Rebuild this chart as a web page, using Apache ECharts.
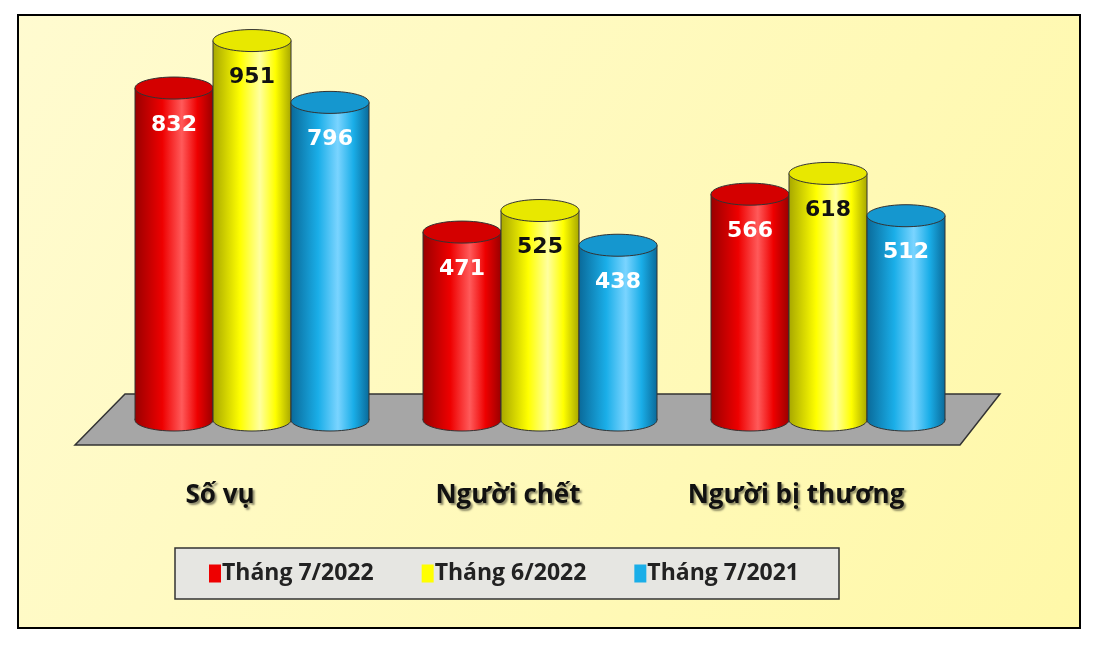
<!DOCTYPE html>
<html><head><meta charset="utf-8">
<script src="https://cdn.jsdelivr.net/npm/echarts@6/dist/echarts.min.js"></script>
<style>html,body{margin:0;padding:0;background:#fff}#c{width:1100px;height:645px}</style>
</head><body><div id="c"></div>
<script>
const categories = ['Số vụ', 'Người chết', 'Người bị thương'];
const seriesNames = ['Tháng 7/2022', 'Tháng 6/2022', 'Tháng 7/2021'];
const jul2022 = [832, 471, 566];
const jun2022 = [951, 525, 618];
const jul2021 = [796, 438, 512];
const allValues = [jul2022, jun2022, jul2021];
const colors = [
  {main:'#ee0000', dark:'#9a0000', light:'#ff5a5a', top:'#d40000', label:'#ffffff'},
  {main:'#ffff00', dark:'#a8a800', light:'#ffffa0', top:'#e8e800', label:'#111111'},
  {main:'#1aaee8', dark:'#0a6a9a', light:'#7ad4ff', top:'#1597cf', label:'#ffffff'}
];
const FONT = '"Liberation Sans Narrow","Open Sans",sans-serif';
const BW = 78, RY = 11;

function makeSeries(si){
  const c = colors[si];
  return {
    type:'custom', name: seriesNames[si],
    itemStyle:{color:c.main},
    data: allValues[si].map((v,i)=>[i,v]),
    renderItem:function(params, api){
      const top = api.coord([api.value(0), api.value(1)]);
      const base = api.coord([api.value(0), 0]);
      const cx = top[0] + (si-1)*BW;
      const x0 = cx - BW/2;
      const grad = new echarts.graphic.LinearGradient(0,0,1,0,[
        {offset:0,color:c.dark},{offset:0.35,color:c.main},{offset:0.6,color:c.light},{offset:0.8,color:c.main},{offset:1,color:c.dark}]);
      return {type:'group', children:[
        {type:'ellipse', shape:{cx:cx, cy:base[1], rx:BW/2, ry:RY}, style:{fill:grad, stroke:'#333', lineWidth:1}},
        {type:'rect', shape:{x:x0, y:top[1], width:BW, height:base[1]-top[1]}, style:{fill:grad, stroke:null}},
        {type:'line', shape:{x1:x0,y1:top[1],x2:x0,y2:base[1]}, style:{stroke:'#333',lineWidth:1}},
        {type:'line', shape:{x1:x0+BW,y1:top[1],x2:x0+BW,y2:base[1]}, style:{stroke:'#333',lineWidth:1}},
        {type:'ellipse', shape:{cx:cx, cy:top[1], rx:BW/2, ry:RY}, style:{fill:c.top, stroke:'#333', lineWidth:1}},
        {type:'text', x:cx, y:top[1]+37, style:{text:String(api.value(1)), fill:c.label, font:'bold 22px "DejaVu Sans",sans-serif', align:'center', verticalAlign:'middle'}}
      ]};
    }
  };
}

const chart = echarts.init(document.getElementById('c'));
chart.setOption({
  animation:false,
  backgroundColor:'#ffffff',
  graphic:[
    {type:'rect', z:-10, shape:{x:18,y:15,width:1062,height:613},
     style:{fill:new echarts.graphic.LinearGradient(0,0,1,1,[{offset:0,color:'#fffbd0'},{offset:1,color:'#fff8a8'}]), stroke:'#000', lineWidth:2}},
    {type:'polygon', z:-5, shape:{points:[[75,445],[960,445],[1000,394],[125,394]]},
     style:{fill:'#a6a6a6', stroke:'#333', lineWidth:1.5}}
  ],
  grid:{left:108, right:128, top:21, bottom:225},
  xAxis:{type:'category', data:categories, axisLine:{show:false}, axisTick:{show:false},
    axisLabel:{margin:63, padding:[0,64,0,0], color:'#111', fontSize:26, fontWeight:'bold', fontFamily:FONT,
      textShadowColor:'rgba(0,0,0,0.45)', textShadowBlur:2, textShadowOffsetX:2, textShadowOffsetY:2}},
  yAxis:{type:'value', min:0, max:1000, show:false},
  legend:{data:seriesNames, left:175, top:548, width:687, height:34, itemGap:48,
    padding:[14,40,14,34], backgroundColor:'#e6e6e2', borderColor:'#333', borderWidth:1.5,
    icon:'rect', itemWidth:12, itemHeight:18,
    textStyle:{fontSize:23, fontWeight:'bold', fontFamily:FONT, color:'#222', padding:[0,0,0,-4]}},
  series:[0,1,2].map(makeSeries)
});
</script></body></html>
